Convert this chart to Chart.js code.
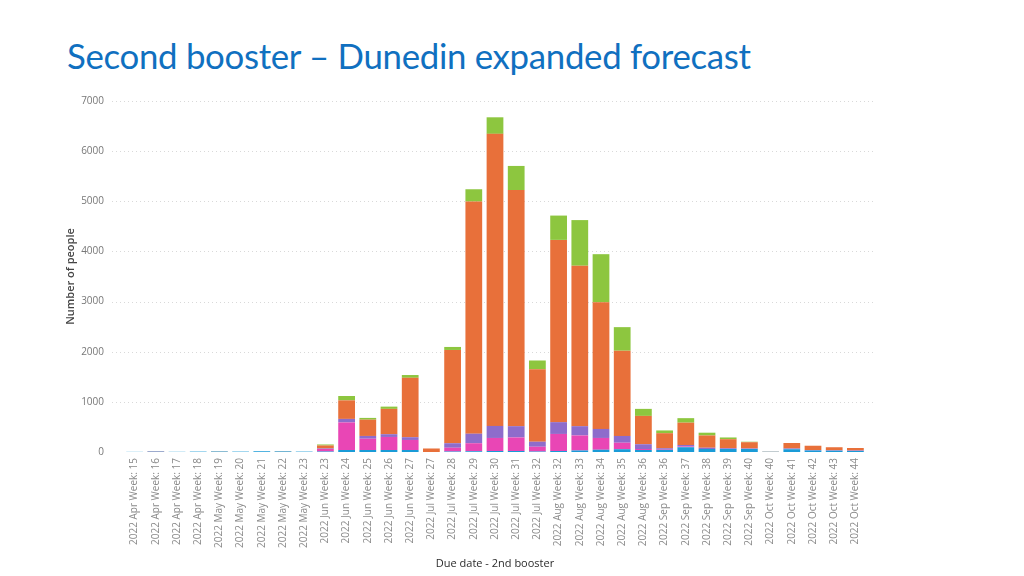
<!DOCTYPE html>
<html>
<head>
<meta charset="utf-8">
<script src="https://cdn.jsdelivr.net/npm/chart.js@4"></script>
<style>
  html, body { margin: 0; padding: 0; background: #fff; }
  #wrap { position: relative; width: 1024px; height: 576px; overflow: hidden; }
  #title {
    position: absolute; left: 67px; top: 35px;
    font-family: Lato, "Open Sans", sans-serif; font-size: 34.8px;
    color: #1070c0; white-space: nowrap; letter-spacing: -0.3px;
  }
  #chart { position: absolute; left: 0; top: 0; }
</style>
</head>
<body>
<div id="wrap">
  <div id="title">Second booster – Dunedin expanded forecast</div>
  <canvas id="chart" width="1024" height="576"></canvas>
</div>
<script>
// ==== Dữ liệu ====
const weeks = [
  "2022 Apr Week: 15", "2022 Apr Week: 16", "2022 Apr Week: 17", "2022 Apr Week: 18",
  "2022 May Week: 19", "2022 May Week: 20", "2022 May Week: 21", "2022 May Week: 22", "2022 May Week: 23",
  "2022 Jun Week: 23", "2022 Jun Week: 24", "2022 Jun Week: 25", "2022 Jun Week: 26", "2022 Jun Week: 27",
  "2022 Jul Week: 27", "2022 Jul Week: 28", "2022 Jul Week: 29", "2022 Jul Week: 30", "2022 Jul Week: 31", "2022 Jul Week: 32",
  "2022 Aug Week: 32", "2022 Aug Week: 33", "2022 Aug Week: 34", "2022 Aug Week: 35", "2022 Aug Week: 36",
  "2022 Sep Week: 36", "2022 Sep Week: 37", "2022 Sep Week: 38", "2022 Sep Week: 39", "2022 Sep Week: 40",
  "2022 Oct Week: 40", "2022 Oct Week: 41", "2022 Oct Week: 42", "2022 Oct Week: 43", "2022 Oct Week: 44"
];

// lớp dưới cùng -> trên cùng
const blueVals   = [3, 8, 4, 8, 10, 8, 15, 12, 8,  10, 40, 40, 40, 40,  0, 10, 15, 20, 20, 10,  20, 30, 45, 55, 40,  40, 95, 60, 60, 60,  5, 55, 30, 25, 20];
const pinkVals   = [0, 5, 0, 0, 0, 0, 0, 0, 0,     50, 550, 225, 260, 200,  0, 75, 160, 260, 270, 95,  340, 300, 235, 130, 20,  5, 15, 0, 0, 0,  0, 0, 0, 0, 0];
const purpleVals = [0, 0, 0, 0, 0, 0, 0, 0, 0,     10, 70, 55, 55, 55,  0, 90, 190, 240, 225, 100,  235, 185, 180, 135, 95,  30, 30, 25, 15, 10,  0, 15, 10, 10, 10];
const orangeVals = [0, 5, 0, 0, 5, 0, 0, 5, 0,     60, 370, 325, 505, 1185,  70, 1860, 4630, 5825, 4710, 1445,  3635, 3200, 2525, 1700, 565,  300, 445, 245, 180, 125,  5, 110, 85, 60, 50];
const greenVals  = [0, 0, 0, 0, 0, 0, 0, 0, 0,     20, 87, 35, 45, 55,  0, 60, 245, 330, 480, 175,  485, 910, 960, 470, 140,  55, 90, 55, 35, 10,  0, 0, 0, 0, 0];

const yTicks = [0, 1000, 2000, 3000, 4000, 5000, 6000, 7000];

const seriesColors = ["#1a9bd7", "#e946b5", "#8e6ccb", "#e8703a", "#8dc63f"];

// ==== Plugin: lưới chấm kéo dài như Power BI ====
const dottedGrid = {
  id: 'dottedGrid',
  beforeDatasetsDraw(chart) {
    const { ctx, chartArea, scales } = chart;
    ctx.save();
    ctx.strokeStyle = '#d9d9d9';
    ctx.lineWidth = 1;
    ctx.setLineDash([1, 3]);
    yTicks.forEach(v => {
      if (v === 0) return;
      const y = Math.round(scales.y.getPixelForValue(v)) + 0.5;
      ctx.beginPath();
      ctx.moveTo(chartArea.left - 12, y);
      ctx.lineTo(chartArea.right + 10, y);
      ctx.stroke();
    });
    ctx.restore();
  }
};

const labelFont = { family: "'Open Sans', 'Noto Sans', sans-serif", size: 10 };

new Chart(document.getElementById('chart').getContext('2d'), {
  type: 'bar',
  data: {
    labels: weeks,
    datasets: [
      { label: 'a', data: blueVals,   backgroundColor: seriesColors[0] },
      { label: 'b', data: pinkVals,   backgroundColor: seriesColors[1] },
      { label: 'c', data: purpleVals, backgroundColor: seriesColors[2] },
      { label: 'd', data: orangeVals, backgroundColor: seriesColors[3] },
      { label: 'e', data: greenVals,  backgroundColor: seriesColors[4] }
    ]
  },
  options: {
    responsive: false,
    animation: false,
    layout: { padding: { top: 101, right: 158, bottom: 0, left: 0 } },
    datasets: { bar: { categoryPercentage: 1, barPercentage: 0.79, borderWidth: 0 } },
    plugins: { legend: { display: false }, tooltip: { enabled: false } },
    scales: {
      x: {
        stacked: true,
        afterFit(scale) { scale.height = 124; },
        grid: { display: false, drawTicks: false },
        border: { display: false },
        ticks: {
          color: '#8a8a8a', font: labelFont, padding: 6,
          minRotation: 90, maxRotation: 90, autoSkip: false
        },
        title: {
          display: true, text: 'Due date - 2nd booster', color: '#2b2b2b',
          font: { family: "'Open Sans', 'Noto Sans', sans-serif", size: 11 },
          padding: { top: 0, bottom: 6 }
        }
      },
      y: {
        stacked: true,
        min: 0, max: 7000,
        afterFit(scale) { scale.width = 124; },
        afterBuildTicks(scale) { scale.ticks = yTicks.map(v => ({ value: v })); },
        grid: { display: false, drawTicks: false },
        border: { display: false },
        ticks: { color: '#777', font: labelFont, padding: 20, callback: v => String(v) },
        title: {
          display: true, text: 'Number of people', color: '#444',
          font: { family: "'Open Sans', 'Noto Sans', sans-serif", size: 11, weight: '600' },
          padding: { top: 64, bottom: 0 }
        }
      }
    }
  },
  plugins: [dottedGrid]
});
</script>
</body>
</html>
